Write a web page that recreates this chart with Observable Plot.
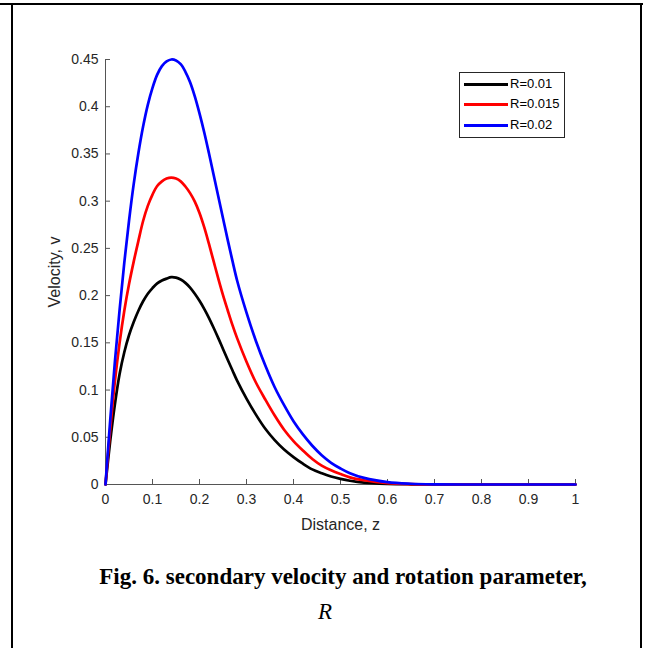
<!DOCTYPE html>
<html>
<head>
<meta charset="utf-8">
<script src="https://cdn.jsdelivr.net/npm/d3@7"></script>
<script src="https://cdn.jsdelivr.net/npm/@observablehq/plot@0.6"></script>
<style>
  body { margin: 0; background: #fff; }
  #wrap { position: relative; width: 646px; height: 648px; overflow: hidden; background: #fff; }
  .bl { position: absolute; background: #000; }
  #legend { position: absolute; left: 459px; top: 72px; width: 104px; height: 64px; border: 1px solid #262626; background: #fff;
            font-family: "Liberation Sans", Arial, sans-serif; font-size: 13px; color: #000; }
  .li { position: absolute; left: 4px; height: 14px; }
  .li .sw { position: absolute; left: 0; top: 6px; width: 44px; height: 3px; }
  .li .tx { position: absolute; left: 46px; top: -1px; white-space: nowrap; line-height: 16px; }
  .cap { position: absolute; font-family: "Liberation Serif", "Times New Roman", serif; color: #000; white-space: nowrap; line-height: 24px; }
</style>
</head>
<body>
<div id="wrap">
  <div class="bl" style="left:0;top:3px;width:643px;height:2px"></div>
  <div class="bl" style="left:11px;top:3px;width:2px;height:645px"></div>
  <div class="bl" style="left:640px;top:3px;width:2px;height:645px"></div>
  <div id="chart" style="position:absolute;left:0;top:0"></div>
  <div id="legend"></div>
  <div class="cap" id="cap1" style="left:0;width:686px;top:565px;text-align:center;font-size:23px;font-weight:bold">Fig. 6. secondary velocity and rotation parameter,</div>
  <div class="cap" id="cap2" style="left:0;width:650px;top:600px;text-align:center;font-size:23px;font-style:italic">R</div>
</div>
<script>
// ---- data ----
const seriesNames = ["R=0.01", "R=0.015", "R=0.02"];
const seriesColors = ["#000000", "#ff0000", "#0000ff"];

const zValues = [0, 0.01, 0.02, 0.03, 0.04, 0.05, 0.06, 0.07, 0.08, 0.09, 0.10, 0.11, 0.12, 0.13, 0.14, 0.15, 0.16, 0.17, 0.18, 0.19, 0.20,
  0.21, 0.22, 0.23, 0.24, 0.25, 0.26, 0.27, 0.28, 0.30, 0.32, 0.34, 0.36, 0.38, 0.40, 0.42, 0.44, 0.46, 0.48, 0.50, 0.52, 0.55, 0.60, 0.65, 0.70, 0.80, 0.90, 1.00];

const vR001 = [0, 0.046, 0.085, 0.117, 0.140, 0.158, 0.172, 0.184, 0.194, 0.202, 0.208, 0.213, 0.216, 0.218, 0.2195, 0.219, 0.217, 0.2135, 0.2085, 0.202, 0.1945,
  0.186, 0.1765, 0.166, 0.155, 0.1435, 0.132, 0.121, 0.110, 0.091, 0.074, 0.059, 0.047, 0.037, 0.029, 0.022, 0.016, 0.012, 0.0085, 0.006, 0.004, 0.002, 0.0007, 0.0002, 0, 0, 0, 0];

const vR0015 = [0, 0.058, 0.109, 0.150, 0.184, 0.212, 0.236, 0.258, 0.279, 0.295, 0.307, 0.316, 0.321, 0.324, 0.325, 0.324, 0.321, 0.3155, 0.3085, 0.2995, 0.2875,
  0.2725, 0.255, 0.2365, 0.218, 0.2005, 0.1845, 0.169, 0.155, 0.130, 0.108, 0.090, 0.073, 0.058, 0.046, 0.036, 0.027, 0.020, 0.015, 0.011, 0.0075, 0.0045, 0.0015, 0.0004, 0.0001, 0, 0, 0];

const vR002 = [0, 0.068, 0.130, 0.185, 0.235, 0.279, 0.318, 0.351, 0.379, 0.402, 0.420, 0.434, 0.443, 0.448, 0.450, 0.449, 0.445, 0.437, 0.426, 0.411, 0.393,
  0.373, 0.351, 0.328, 0.305, 0.282, 0.259, 0.237, 0.216, 0.182, 0.152, 0.126, 0.103, 0.084, 0.067, 0.053, 0.041, 0.031, 0.023, 0.017, 0.012, 0.007, 0.0025, 0.0008, 0.0002, 0, 0, 0];

const xTicks = [0, 0.1, 0.2, 0.3, 0.4, 0.5, 0.6, 0.7, 0.8, 0.9, 1];
const yTicks = [0, 0.05, 0.1, 0.15, 0.2, 0.25, 0.3, 0.35, 0.4, 0.45];
const xLabel = "Distance, z";
const yLabel = "Velocity, v";

// ---- build table ----
const allSeries = [vR001, vR0015, vR002];
const rows = [];
allSeries.forEach((vals, s) => {
  zValues.forEach((z, i) => rows.push({ z, v: vals[i], series: seriesNames[s] }));
});

const fmt = d => String(+d.toFixed(2));
const axisColor = "#262626";

const chart = Plot.plot({
  width: 646,
  height: 545,
  marginLeft: 105,
  marginRight: 71,
  marginTop: 59,
  marginBottom: 61,
  style: { fontFamily: "'Liberation Sans', Arial, sans-serif", fontSize: "14px", color: axisColor, background: "transparent" },
  x: { domain: [0, 1] },
  y: { domain: [0, 0.45] },
  color: { domain: seriesNames, range: seriesColors },
  marks: [
    // inward ticks
    Plot.axisX(xTicks, { tickSize: 5, dy: -5, tickFormat: () => "", label: null, stroke: "#555" }),
    Plot.axisY(yTicks, { tickSize: 5, dx: 5, tickFormat: () => "", label: null, stroke: "#555" }),
    // tick labels
    Plot.axisX(xTicks, { tickSize: 0, tickPadding: 10, tickFormat: fmt, label: null, fill: axisColor, fontSize: 14 }),
    Plot.axisY(yTicks, { tickSize: 0, tickPadding: 7, tickFormat: fmt, label: null, fill: axisColor, fontSize: 14 }),
    Plot.axisX({ ticks: [], tickSize: 0, label: xLabel, labelAnchor: "center", labelArrow: "none", labelOffset: 45, fill: axisColor, fontSize: 16 }),
    Plot.axisY({ ticks: [], tickSize: 0, label: yLabel, labelAnchor: "center", labelArrow: "none", labelOffset: 57, fill: axisColor, fontSize: 16 }),
    Plot.ruleY([0], { stroke: "#555", strokeWidth: 1 }),
    Plot.ruleX([0], { stroke: "#555", strokeWidth: 1 }),
    Plot.line(rows, { x: "z", y: "v", z: "series", stroke: "series", strokeWidth: 2.7, curve: "catmull-rom" })
  ]
});
document.getElementById("chart").appendChild(chart);

// ---- legend ----
const legend = document.getElementById("legend");
const legendTops = [4, 24, 45];
seriesNames.forEach((name, i) => {
  const item = document.createElement("div");
  item.className = "li";
  item.style.top = legendTops[i] + "px";
  item.innerHTML = `<div class="sw" style="background:${seriesColors[i]}"></div><div class="tx">${name}</div>`;
  legend.appendChild(item);
});
</script>
</body>
</html>
